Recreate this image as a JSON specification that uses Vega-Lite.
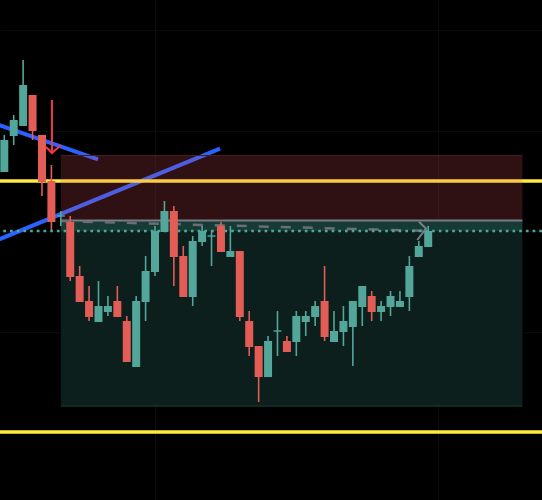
{
  "$schema": "https://vega.github.io/schema/vega-lite/v6.json",
  "width": 542,
  "height": 500,
  "autosize": {"type": "none"},
  "padding": 0,
  "background": "#000000",
  "config": {"view": {"stroke": null}, "scale": {"continuousPadding": 0}},
  "datasets": {
    "candles": [
      {"i": 0, "o": 328, "h": 365, "l": 328, "c": 360},
      {"i": 1, "o": 364, "h": 385, "l": 355, "c": 380},
      {"i": 2, "o": 374, "h": 440, "l": 374, "c": 415},
      {"i": 3, "o": 405, "h": 405, "l": 360, "c": 369},
      {"i": 4, "o": 365, "h": 365, "l": 304, "c": 318},
      {"i": 5, "o": 319, "h": 335, "l": 270, "c": 278},
      {"i": 6, "o": 283.3, "h": 289, "l": 274, "c": 284.7},
      {"i": 7, "o": 278, "h": 284, "l": 219, "c": 223},
      {"i": 8, "o": 224, "h": 234, "l": 198, "c": 198},
      {"i": 9, "o": 199, "h": 214, "l": 179, "c": 183},
      {"i": 10, "o": 178, "h": 219, "l": 178, "c": 194},
      {"i": 11, "o": 188, "h": 204, "l": 184, "c": 194},
      {"i": 12, "o": 199, "h": 214, "l": 183, "c": 183},
      {"i": 13, "o": 179, "h": 184, "l": 138, "c": 138},
      {"i": 14, "o": 133, "h": 204, "l": 133, "c": 199},
      {"i": 15, "o": 198, "h": 244, "l": 179, "c": 229},
      {"i": 16, "o": 228, "h": 274, "l": 224, "c": 269},
      {"i": 17, "o": 268, "h": 299, "l": 268, "c": 289},
      {"i": 18, "o": 289, "h": 294, "l": 214, "c": 243},
      {"i": 19, "o": 244, "h": 254, "l": 203, "c": 203},
      {"i": 20, "o": 203, "h": 264, "l": 194, "c": 259},
      {"i": 21, "o": 258, "h": 274, "l": 254, "c": 269},
      {"i": 22, "o": 263.3, "h": 269, "l": 234, "c": 264.7},
      {"i": 23, "o": 274, "h": 278, "l": 248, "c": 248},
      {"i": 24, "o": 243, "h": 274, "l": 243, "c": 249},
      {"i": 25, "o": 249, "h": 249, "l": 179, "c": 183},
      {"i": 26, "o": 179, "h": 189, "l": 144, "c": 153},
      {"i": 27, "o": 154, "h": 154, "l": 98, "c": 123},
      {"i": 28, "o": 123, "h": 164, "l": 123, "c": 159},
      {"i": 29, "o": 168.3, "h": 189, "l": 144, "c": 169.7},
      {"i": 30, "o": 159, "h": 164, "l": 148, "c": 148},
      {"i": 31, "o": 158, "h": 189, "l": 144, "c": 184},
      {"i": 32, "o": 178, "h": 189, "l": 164, "c": 184},
      {"i": 33, "o": 183, "h": 199, "l": 174, "c": 194},
      {"i": 34, "o": 199, "h": 234, "l": 159, "c": 163},
      {"i": 35, "o": 158, "h": 189, "l": 158, "c": 169},
      {"i": 36, "o": 168, "h": 194, "l": 154, "c": 179},
      {"i": 37, "o": 173, "h": 199, "l": 134, "c": 199},
      {"i": 38, "o": 193, "h": 214, "l": 174, "c": 214},
      {"i": 39, "o": 204, "h": 209, "l": 179, "c": 188},
      {"i": 40, "o": 188, "h": 199, "l": 179, "c": 194},
      {"i": 41, "o": 193, "h": 209, "l": 184, "c": 204},
      {"i": 42, "o": 193, "h": 209, "l": 193, "c": 199},
      {"i": 43, "o": 203, "h": 244, "l": 189, "c": 234},
      {"i": 44, "o": 243, "h": 259, "l": 243, "c": 254},
      {"i": 45, "o": 253, "h": 274, "l": 253, "c": 269}
    ]
  },
  "layer": [
    {
      "data": {"values": [
        {"id": "down", "i": -1, "v": 376.3},
        {"id": "down", "i": 9.95, "v": 340.7},
        {"id": "up", "i": -1, "v": 258.9},
        {"id": "up", "i": 22.9, "v": 351.4}
      ]},
      "mark": {"type": "line", "color": "#2962ff", "strokeWidth": 4, "strokeCap": "butt", "clip": true},
      "encoding": {
        "x": {"field": "i", "type": "quantitative", "scale": {"domain": [-0.456, 57.08], "nice": false, "zero": false, "padding": 0},
              "axis": {"grid": true, "values": [16, 46], "labels": false, "ticks": false, "domain": false, "title": null, "gridColor": "#0b0b0b", "gridWidth": 1}},
        "y": {"field": "v", "type": "quantitative", "scale": {"domain": [0, 500], "nice": false, "zero": false},
              "axis": {"grid": true, "values": [470, 369.5, 269, 168.5, 68], "labels": false, "ticks": false, "domain": false, "title": null, "gridColor": "#0b0b0b", "gridWidth": 1}},
        "detail": {"field": "id"}
      }
    },
    {
      "data": {"values": [{"v": 319}, {"v": 68}]},
      "mark": {"type": "rule", "color": "#ffeb3b", "strokeWidth": 3.3},
      "encoding": {
        "y": {"field": "v", "type": "quantitative", "scale": {"domain": [0, 500], "nice": false, "zero": false}}
      }
    },
    {
      "data": {"values": [{"i": 6, "i2": 55, "v": 280, "v2": 93.5}]},
      "mark": {"type": "rect", "fill": "#0c1f1c"},
      "encoding": {
        "x": {"field": "i", "type": "quantitative", "scale": {"domain": [-0.456, 57.08], "nice": false, "zero": false, "padding": 0}},
        "x2": {"field": "i2"},
        "y": {"field": "v", "type": "quantitative", "scale": {"domain": [0, 500], "nice": false, "zero": false}},
        "y2": {"field": "v2"}
      }
    },
    {
      "data": {"values": [{"i": 6, "i2": 55, "v": 279, "v2": 269}]},
      "mark": {"type": "rect", "fill": "#163a34"},
      "encoding": {
        "x": {"field": "i", "type": "quantitative", "scale": {"domain": [-0.456, 57.08], "nice": false, "zero": false, "padding": 0}},
        "x2": {"field": "i2"},
        "y": {"field": "v", "type": "quantitative", "scale": {"domain": [0, 500], "nice": false, "zero": false}},
        "y2": {"field": "v2"}
      }
    },
    {
      "data": {"values": [{"i": 6, "i2": 55, "v": 345, "v2": 280}]},
      "mark": {"type": "rect", "fill": "#f0505f", "fillOpacity": 0.195},
      "encoding": {
        "x": {"field": "i", "type": "quantitative", "scale": {"domain": [-0.456, 57.08], "nice": false, "zero": false, "padding": 0}},
        "x2": {"field": "i2"},
        "y": {"field": "v", "type": "quantitative", "scale": {"domain": [0, 500], "nice": false, "zero": false}},
        "y2": {"field": "v2"}
      }
    },
    {
      "data": {"values": [{"i": 6, "i2": 55, "v": 344.5}]},
      "mark": {"type": "rule", "color": "#4c1a1f", "strokeWidth": 1.2},
      "encoding": {
        "x": {"field": "i", "type": "quantitative", "scale": {"domain": [-0.456, 57.08], "nice": false, "zero": false, "padding": 0}},
        "x2": {"field": "i2"},
        "y": {"field": "v", "type": "quantitative", "scale": {"domain": [0, 500], "nice": false, "zero": false}}
      }
    },
    {
      "data": {"values": [{"i": 6, "i2": 55, "v": 94}]},
      "mark": {"type": "rule", "color": "#1b3e38", "strokeWidth": 1.2},
      "encoding": {
        "x": {"field": "i", "type": "quantitative", "scale": {"domain": [-0.456, 57.08], "nice": false, "zero": false, "padding": 0}},
        "x2": {"field": "i2"},
        "y": {"field": "v", "type": "quantitative", "scale": {"domain": [0, 500], "nice": false, "zero": false}}
      }
    },
    {
      "data": {"values": [{"i": 6, "i2": 55, "v": 279.4}]},
      "mark": {"type": "rule", "color": "#787b86", "strokeWidth": 2},
      "encoding": {
        "x": {"field": "i", "type": "quantitative", "scale": {"domain": [-0.456, 57.08], "nice": false, "zero": false, "padding": 0}},
        "x2": {"field": "i2"},
        "y": {"field": "v", "type": "quantitative", "scale": {"domain": [0, 500], "nice": false, "zero": false}}
      }
    },
    {
      "data": {"values": [{"i": 6, "v": 278.9}, {"i": 44.45, "v": 269.2}]},
      "mark": {"type": "line", "color": "#6b6e76", "strokeWidth": 2.5, "strokeDash": [10, 12]},
      "encoding": {
        "x": {"field": "i", "type": "quantitative", "scale": {"domain": [-0.456, 57.08], "nice": false, "zero": false, "padding": 0}},
        "y": {"field": "v", "type": "quantitative", "scale": {"domain": [0, 500], "nice": false, "zero": false}}
      }
    },
    {
      "data": {"values": [{"n": 1, "i": 44.02, "v": 278.3}, {"n": 2, "i": 44.77, "v": 271.5}, {"n": 3, "i": 43.84, "v": 260}]},
      "mark": {"type": "line", "color": "#7c7f88", "strokeWidth": 2},
      "encoding": {
        "x": {"field": "i", "type": "quantitative", "scale": {"domain": [-0.456, 57.08], "nice": false, "zero": false, "padding": 0}},
        "y": {"field": "v", "type": "quantitative", "scale": {"domain": [0, 500], "nice": false, "zero": false}},
        "order": {"field": "n"}
      }
    },
    {
      "data": {"values": [{"v": 269}]},
      "mark": {"type": "rule", "color": "#4fa69a", "strokeWidth": 2.3, "strokeDash": [2.7, 4]},
      "encoding": {
        "y": {"field": "v", "type": "quantitative", "scale": {"domain": [0, 500], "nice": false, "zero": false}}
      }
    },
    {
      "data": {"values": [{"i": 5.06, "v": 400, "v2": 347.5}]},
      "mark": {"type": "rule", "color": "#f23645", "strokeWidth": 2},
      "encoding": {
        "x": {"field": "i", "type": "quantitative", "scale": {"domain": [-0.456, 57.08], "nice": false, "zero": false, "padding": 0}},
        "y": {"field": "v", "type": "quantitative", "scale": {"domain": [0, 500], "nice": false, "zero": false}},
        "y2": {"field": "v2"}
      }
    },
    {
      "data": {"values": [{"n": 1, "i": 4.43, "v": 353}, {"n": 2, "i": 5.06, "v": 347}, {"n": 3, "i": 6.02, "v": 355}]},
      "mark": {"type": "line", "color": "#f23645", "strokeWidth": 2},
      "encoding": {
        "x": {"field": "i", "type": "quantitative", "scale": {"domain": [-0.456, 57.08], "nice": false, "zero": false, "padding": 0}},
        "y": {"field": "v", "type": "quantitative", "scale": {"domain": [0, 500], "nice": false, "zero": false}},
        "order": {"field": "n"}
      }
    },
    {
      "data": {"name": "candles"},
      "mark": {"type": "rule", "strokeWidth": 1.6},
      "encoding": {
        "x": {"field": "i", "type": "quantitative", "scale": {"domain": [-0.456, 57.08], "nice": false, "zero": false, "padding": 0}},
        "y": {"field": "l", "type": "quantitative", "scale": {"domain": [0, 500], "nice": false, "zero": false}},
        "y2": {"field": "h"},
        "color": {"condition": {"test": "datum.c >= datum.o", "value": "#52a69a"}, "value": "#e35d56"}
      }
    },
    {
      "data": {"name": "candles"},
      "mark": {"type": "bar", "size": 8},
      "encoding": {
        "x": {"field": "i", "type": "quantitative", "scale": {"domain": [-0.456, 57.08], "nice": false, "zero": false, "padding": 0}},
        "y": {"field": "o", "type": "quantitative", "scale": {"domain": [0, 500], "nice": false, "zero": false}},
        "y2": {"field": "c"},
        "color": {"condition": {"test": "datum.c >= datum.o", "value": "#52a69a"}, "value": "#e35d56"}
      }
    }
  ]
}
